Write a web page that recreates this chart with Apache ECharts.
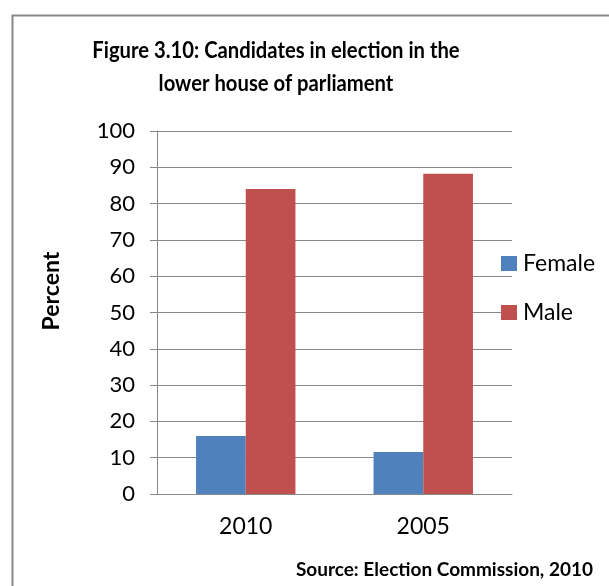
<!DOCTYPE html>
<html><head><meta charset="utf-8">
<script src="https://cdn.jsdelivr.net/npm/echarts@6/dist/echarts.min.js"></script>
<style>html,body{margin:0;padding:0;background:#fff}#c{width:609px;height:586px}</style>
</head><body><div id="c"></div>
<script>
const categories = ['2010', '2005'];
const femaleValues = [16, 11.6];
const maleValues = [84, 88.2];
const yTicks = [0, 10, 20, 30, 40, 50, 60, 70, 80, 90, 100];

const FONT = 'Lato, "Open Sans", sans-serif';
const chart = echarts.init(document.getElementById('c'));
chart.setOption({
  animation: false,
  backgroundColor: '#fff',
  legend: {
    orient: 'vertical', left: 501, top: 252, itemGap: 26, padding: 0,
    itemWidth: 16, itemHeight: 15, icon: 'rect',
    textStyle: { fontFamily: FONT, fontSize: 23, color: '#000', padding: [0, 0, 0, 1] }
  },
  grid: { left: 157, right: 97, top: 131, bottom: 92, containLabel: false },
  xAxis: {
    type: 'category', data: categories,
    axisLine: { lineStyle: { color: '#888', width: 1 } },
    axisTick: { show: false },
    axisLabel: { fontFamily: FONT, fontSize: 23, color: '#000', margin: 21 }
  },
  yAxis: {
    type: 'value', min: yTicks[0], max: yTicks[yTicks.length - 1], interval: 10,
    axisLine: { show: true, lineStyle: { color: '#888' } },
    axisTick: { show: true, length: 7, lineStyle: { color: '#888' } },
    splitLine: { lineStyle: { color: '#888' } },
    axisLabel: { fontFamily: FONT, fontSize: 22, color: '#000', margin: 22 }
  },
  series: [
    { name: 'Female', type: 'bar', data: femaleValues, barGap: '0%', barCategoryGap: '44%',
      itemStyle: { color: '#4f81bd' } },
    { name: 'Male', type: 'bar', data: maleValues,
      itemStyle: { color: '#c0504d' } }
  ],
  graphic: [
    { type: 'rect', left: 10, top: 13, shape: { width: 620, height: 600 },
      style: { fill: 'none', stroke: '#888', lineWidth: 2 }, silent: true },
    { type: 'text', x: 276, y: 34, scaleX: 0.88,
      style: { text: 'Figure 3.10: Candidates in election in the\nlower house of parliament',
        font: 'bold 23px ' + FONT, fill: '#000', textAlign: 'center', textVerticalAlign: 'top', lineHeight: 33 } },
    { type: 'text', x: 52, y: 291, rotation: Math.PI / 2,
      style: { text: 'Percent', font: 'bold 23px ' + FONT, fill: '#000', textAlign: 'center', textVerticalAlign: 'middle' } },
    { type: 'text', x: 593, y: 570,
      style: { text: 'Source: Election Commission, 2010', font: 'bold 19px ' + FONT, fill: '#000', textAlign: 'right', textVerticalAlign: 'middle' } }
  ]
});
</script></body></html>
